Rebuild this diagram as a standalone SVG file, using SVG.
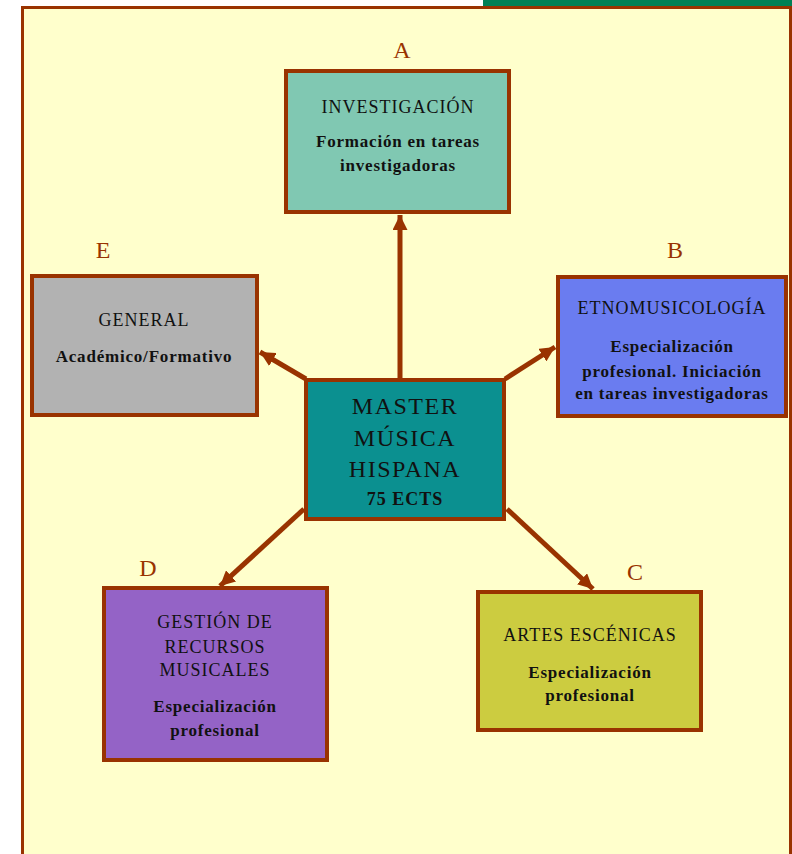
<svg xmlns="http://www.w3.org/2000/svg" width="792" height="854" viewBox="0 0 792 854">
<defs>
<style>
.box{stroke:#993300;stroke-width:4}
.t{font-family:"Liberation Serif",serif;fill:#111;text-anchor:middle}
.h{font-size:18px;letter-spacing:1px}
.s{font-size:17px;font-weight:bold;letter-spacing:0.8px}
.m{font-size:24px;letter-spacing:1.5px}
.e{font-size:18px;font-weight:bold;letter-spacing:1px}
.lbl{font-family:"Liberation Serif",serif;font-size:24px;fill:#993300;text-anchor:middle}
.con{stroke:#993300;stroke-width:5;fill:none}
</style>
<marker id="ah" viewBox="0 0 10 10" refX="10" refY="5" markerWidth="3" markerHeight="3" orient="auto" markerUnits="strokeWidth">
<path d="M0,0 L10,5 L0,10 z" fill="#993300"/>
</marker>
</defs>
<rect x="0" y="0" width="792" height="854" fill="#ffffff"/>
<rect x="483" y="0" width="309" height="7" fill="#008055"/>
<rect x="22.5" y="7.5" width="768" height="860" fill="#FFFFCC" stroke="#993300" stroke-width="3"/>

<g id="connectors">
<line class="con" x1="400" y1="378" x2="400" y2="215" marker-end="url(#ah)"/>
<line class="con" x1="306" y1="379" x2="260" y2="352" marker-end="url(#ah)"/>
<line class="con" x1="505" y1="379" x2="555" y2="347" marker-end="url(#ah)"/>
<line class="con" x1="304" y1="509" x2="220" y2="586" marker-end="url(#ah)"/>
<line class="con" x1="507" y1="509" x2="593" y2="589" marker-end="url(#ah)"/>
</g>

<g id="nodeA">
<text class="lbl" x="402" y="58">A</text>
<rect class="box" x="286" y="71" width="223" height="141" fill="#80C8B2"/>
<text class="t h" x="398" y="113">INVESTIGACIÓN</text>
<text class="t s" x="398" y="147">Formación en tareas</text>
<text class="t s" x="398" y="171">investigadoras</text>
</g>

<g id="nodeB">
<text class="lbl" x="675" y="258">B</text>
<rect class="box" x="558" y="277" width="228" height="139" fill="#6A7CF0"/>
<text class="t h" x="672" y="314">ETNOMUSICOLOGÍA</text>
<text class="t s" x="672" y="352">Especialización</text>
<text class="t s" x="672" y="377">profesional. Iniciación</text>
<text class="t s" x="672" y="399">en tareas investigadoras</text>
</g>

<g id="nodeC">
<text class="lbl" x="635" y="580">C</text>
<rect class="box" x="478" y="592" width="223" height="138" fill="#CCCC40"/>
<text class="t h" x="590" y="641">ARTES ESCÉNICAS</text>
<text class="t s" x="590" y="678">Especialización</text>
<text class="t s" x="590" y="701">profesional</text>
</g>

<g id="nodeD">
<text class="lbl" x="148" y="576">D</text>
<rect class="box" x="104" y="588" width="223" height="172" fill="#9463C6"/>
<text class="t h" x="215" y="628">GESTIÓN DE</text>
<text class="t h" x="215" y="653">RECURSOS</text>
<text class="t h" x="215" y="676">MUSICALES</text>
<text class="t s" x="215" y="712">Especialización</text>
<text class="t s" x="215" y="736">profesional</text>
</g>

<g id="nodeE">
<text class="lbl" x="103" y="258">E</text>
<rect class="box" x="32" y="276" width="225" height="139" fill="#B2B2B2"/>
<text class="t h" x="144" y="326">GENERAL</text>
<text class="t s" x="144" y="362">Académico/Formativo</text>
</g>

<g id="nodeM">
<rect class="box" x="306" y="380" width="198" height="139" fill="#0B9090"/>
<text class="t m" x="405" y="414">MASTER</text>
<text class="t m" x="405" y="446">MÚSICA</text>
<text class="t m" x="405" y="477">HISPANA</text>
<text class="t e" x="405" y="505">75 ECTS</text>
</g>
</svg>
